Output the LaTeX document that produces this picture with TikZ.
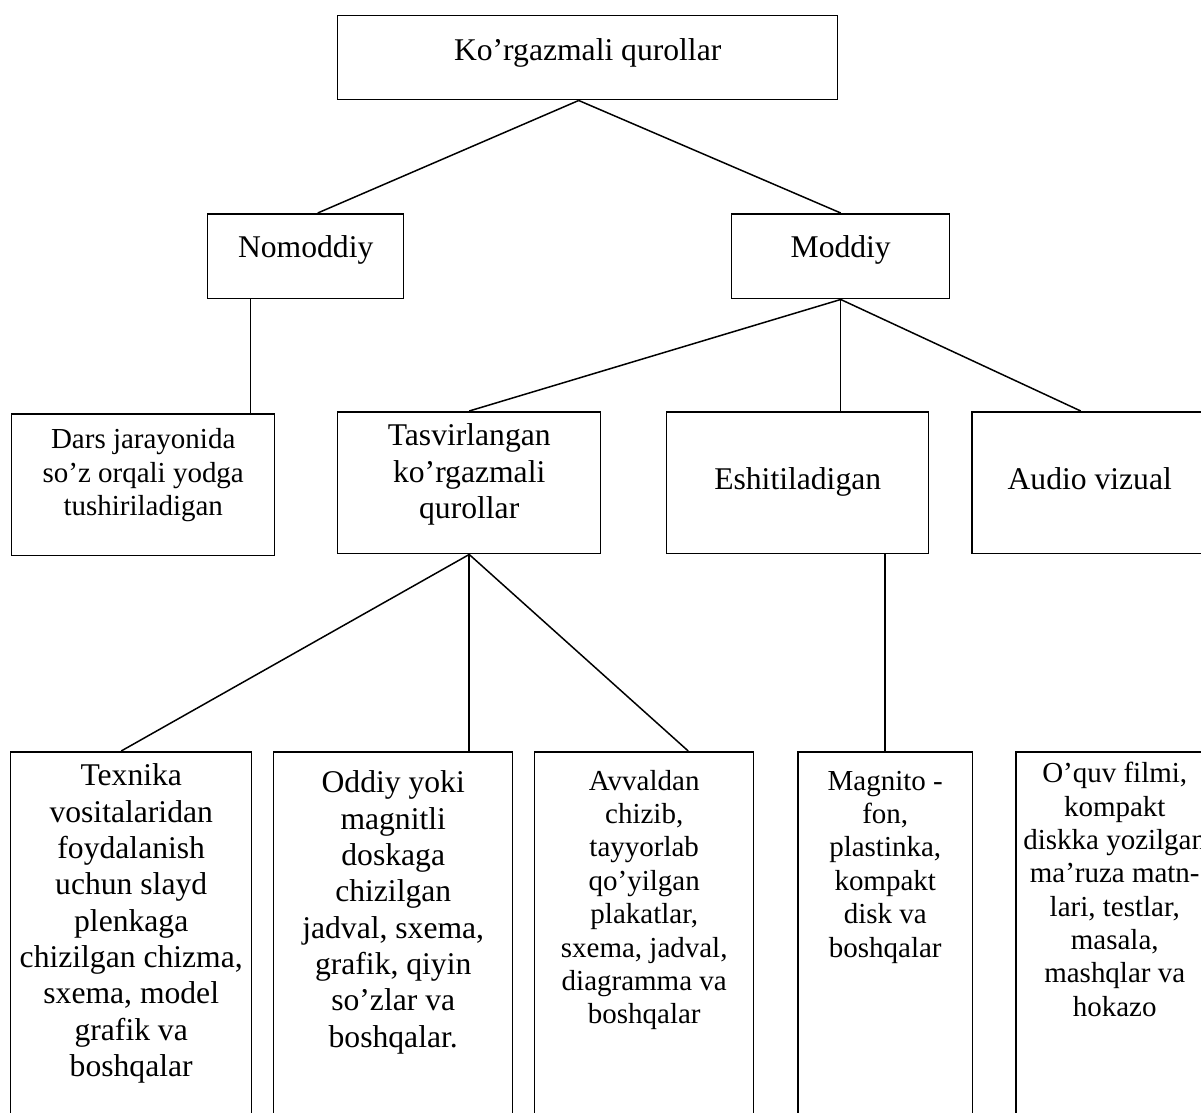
\documentclass[tikz,border=0pt]{standalone}
\usepackage{fontspec}
\setmainfont{Liberation Serif}
\usetikzlibrary{calc}

\tikzset{
    blk/.style={draw, line width=0.85pt, inner sep=0pt, anchor=north west},
    big/.style={font=\fontsize{18}{20.7}\selectfont},
    small/.style={font=\fontsize{16.5}{19}\selectfont},
    link/.style={line width=0.85pt}
}
% box body: width, height, gap above first line, text
\newcommand{\cell}[4]{\parbox[t][#2][t]{#1}{\centering\vspace*{#3}\strut #4}}

\begin{document}
\begin{tikzpicture}[x=0.02cm, y=-0.02cm]
        \clip (0,0) rectangle (1201,1113);

        % --- Top level ---
        \node[blk, big] (top) at (337,15) {\cell{10cm}{1.68cm}{0.38cm}{Ko’rgazmali qurollar}};

        % --- Second level ---
        \node[blk, big] (nom) at (207,213) {\cell{3.92cm}{1.7cm}{0.36cm}{Nomoddiy}};
        \node[blk, big] (mod) at (731,213) {\cell{4.36cm}{1.7cm}{0.36cm}{Moddiy}};

        % --- Third level ---
        \node[blk, small] (dars) at (11,413) {\cell{5.26cm}{2.84cm}{0.23cm}{Dars jarayonida\\ so’z orqali yodga\\ tushiriladigan}};
        \node[blk, big] (tas) at (337,411) {\cell{5.26cm}{2.84cm}{0.17cm}{Tasvirlangan\\ ko’rgazmali\\ qurollar}};
        \node[blk, big] (esh) at (666,411) {\cell{5.24cm}{2.84cm}{1.05cm}{Eshitiladigan}};
        \node[blk, big] (aud) at (971,411) {\cell{4.72cm}{2.84cm}{1.05cm}{Audio vizual}};

        % --- Bottom level ---
        \node[blk, big] (b1) at (10,751) {\cell{4.82cm}{8cm}{0.17cm}{Texnika\\ vositalaridan\\ foydalanish\\ uchun slayd\\ plenkaga\\ chizilgan chizma,\\ sxema, model\\ grafik va\\ boshqalar}};
        \node[blk, big] (b2) at (273,751) {\cell{4.78cm}{8cm}{0.31cm}{Oddiy yoki\\ magnitli\\ doskaga\\ chizilgan\\ jadval, sxema,\\ grafik, qiyin\\ so’zlar va\\ boshqalar.}};
        \node[blk, small] (b3) at (534,751) {\cell{4.38cm}{8cm}{0.3cm}{Avvaldan\\ chizib,\\ tayyorlab\\ qo’yilgan\\ plakatlar,\\ sxema, jadval,\\ diagramma va\\ boshqalar}};
        \node[blk, small] (b4) at (797,751) {\cell{3.5cm}{8cm}{0.3cm}{Magnito -\\ fon,\\ plastinka,\\ kompakt\\ disk va\\ boshqalar}};
        \node[blk, small] (b5) at (1015,751) {\cell{3.96cm}{8cm}{0.15cm}{O’quv filmi,\\ kompakt\\ diskka yozilgan\\ ma’ruza matn-\\ lari, testlar,\\ masala,\\ mashqlar va\\ hokazo}};

        % --- Connectors ---
        \coordinate (apex) at ($(top.south)+(-9,0)$);
        \draw[link] (apex) -- ($(nom.north)+(12,0)$);
        \draw[link] (apex) -- (mod.north);

        \coordinate (nomfoot) at ($(nom.south)+(-55,0)$);
        \draw[link] (nomfoot) -- (nomfoot |- dars.north);

        \draw[link] (mod.south) -- (tas.north);
        \draw[link] (mod.south) -- (mod.south |- esh.north);
        \draw[link] (mod.south) -- ($(aud.north)+(-9,0)$);

        \draw[link] (tas.south) -- ($(b1.north)+(-10,0)$);
        \draw[link] (tas.south) -- (tas.south |- b2.north);
        \draw[link] (tas.south) -- ($(b3.north)+(44,0)$);

        \draw[link] (esh.south -| b4.north) -- (b4.north);
\end{tikzpicture}
\end{document}
